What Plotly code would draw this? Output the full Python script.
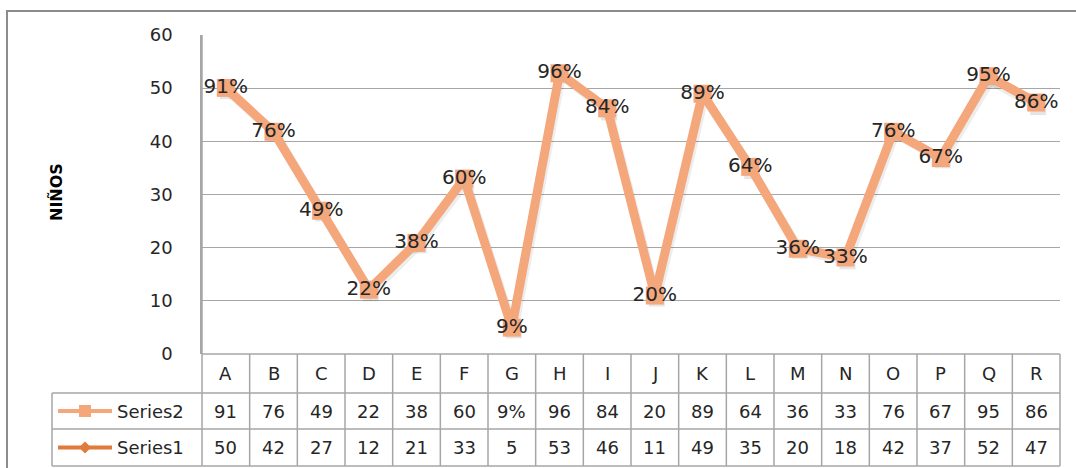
import plotly.graph_objects as go

# ---- data ----
categories = ["A", "B", "C", "D", "E", "F", "G", "H", "I", "J", "K", "L", "M", "N", "O", "P", "Q", "R"]
series1 = [50, 42, 27, 12, 21, 33, 5, 53, 46, 11, 49, 35, 20, 18, 42, 37, 52, 47]
series2 = [91, 76, 49, 22, 38, 60, 9, 96, 84, 20, 89, 64, 36, 33, 76, 67, 95, 86]
series2_table = ["91", "76", "49", "22", "38", "60", "9%", "96", "84", "20", "89", "64",
                 "36", "33", "76", "67", "95", "86"]
y_ticks = [0, 10, 20, 30, 40, 50, 60]

# ---- page geometry (pixels) ----
W, H = 1076, 468
PL, PR, PT, PB = 202, 1060, 35, 354          # plot area
ROW1, ROW2, ROW3 = 393, 429, 466             # table row boundaries
LEG_L = 52                                   # left edge of legend column

def fx(px):
    return (px - PL) / (PR - PL)

def fy(py):
    return (PB - py) / (PB - PT)

C1 = "#E07B39"
C2 = "#F5A77C"
GRID = "#A6A6A6"
TXT = "#262626"
FONT = "DejaVu Sans"
FS = 18

n = len(categories)
xs = list(range(n))
y1_max = 60
# secondary scale: 100 % corresponds to 55 children
y2_max = y1_max * 100 / 55

fig = go.Figure()

# soft drop shadow under the lines
dx = n / (PR - PL) * 2
dy = y1_max / (PB - PT) * 3
fig.add_trace(go.Scatter(
    x=[x + dx for x in xs], y=[v - dy for v in series1], mode="lines+markers",
    line=dict(color="rgba(0,0,0,0.07)", width=9),
    marker=dict(symbol="square", size=16, color="rgba(0,0,0,0.10)"),
    hoverinfo="skip", showlegend=False))

fig.add_trace(go.Scatter(
    x=xs, y=series1, name="Series1", mode="lines+markers",
    line=dict(color=C1, width=4),
    marker=dict(symbol="diamond", size=11, color=C1), showlegend=False))

fig.add_trace(go.Scatter(
    x=xs, y=series2, name="Series2", yaxis="y2", mode="lines+markers+text",
    line=dict(color=C2, width=9),
    marker=dict(symbol="square", size=18, color=C2),
    text=[f"{v}%" for v in series2], textposition="middle center",
    textfont=dict(family=FONT, size=20, color=TXT), showlegend=False))

shapes = []
# outer frame
shapes.append(dict(type="rect", xref="paper", yref="paper",
                   x0=fx(7), x1=fx(1090), y0=fy(11), y1=fy(480),
                   line=dict(color="#8C8C8C", width=2)))
# table horizontal lines
for py in (ROW1, ROW2, ROW3):
    shapes.append(dict(type="line", xref="paper", yref="paper",
                       x0=fx(LEG_L), x1=1, y0=fy(py), y1=fy(py),
                       line=dict(color=GRID, width=1.5)))
shapes.append(dict(type="line", xref="paper", yref="paper",
                   x0=0, x1=1, y0=0, y1=0, line=dict(color=GRID, width=1.5)))
# table vertical lines at category boundaries
for i in range(n + 1):
    x = i / n
    shapes.append(dict(type="line", xref="paper", yref="paper",
                       x0=x, x1=x, y0=fy(ROW3), y1=0 if i else 1,
                       line=dict(color=GRID, width=1.5)))
shapes.append(dict(type="line", xref="paper", yref="paper",
                   x0=fx(LEG_L), x1=fx(LEG_L), y0=fy(ROW3), y1=fy(ROW1),
                   line=dict(color=GRID, width=1.5)))

# legend keys inside the table
ym2 = (ROW1 + ROW2) / 2
ym1 = (ROW2 + ROW3) / 2
for ymid, col in ((ym2, C2), (ym1, C1)):
    shapes.append(dict(type="line", xref="paper", yref="paper",
                       x0=fx(58), x1=fx(112), y0=fy(ymid), y1=fy(ymid),
                       line=dict(color=col, width=4)))
shapes.append(dict(type="rect", xref="paper", yref="paper",
                   x0=fx(79), x1=fx(91), y0=fy(ym2 + 6), y1=fy(ym2 - 6),
                   fillcolor=C2, line=dict(width=0)))
shapes.append(dict(type="path", xref="paper", yref="paper",
                   path=(f"M {fx(85)} {fy(ym1 - 6)} L {fx(91)} {fy(ym1)} "
                         f"L {fx(85)} {fy(ym1 + 6)} L {fx(79)} {fy(ym1)} Z"),
                   fillcolor=C1, line=dict(width=0)))

annotations = []
font = dict(family=FONT, size=FS, color=TXT)

def cell(x, y, text, anchor="center"):
    annotations.append(dict(x=x, y=y, xref="paper", yref="paper", xanchor=anchor,
                            yanchor="middle", text=text, showarrow=False, font=font))

for i, cat in enumerate(categories):
    xc = (i + 0.5) / n
    cell(xc, fy((PB + ROW1) / 2), cat)
    cell(xc, fy(ym2), series2_table[i])
    cell(xc, fy(ym1), str(series1[i]))
cell(fx(115), fy(ym2), "Series2", "left")
cell(fx(115), fy(ym1), "Series1", "left")
annotations.append(dict(x=fx(56), y=fy(192), xref="paper", yref="paper",
                        xanchor="center", yanchor="middle",
                        text="<b>NIÑOS</b>", textangle=-90, showarrow=False,
                        font=dict(family=FONT, size=16, color="#000000")))

fig.update_layout(
    width=W, height=H,
    margin=dict(l=PL, r=W - PR, t=PT, b=H - PB),
    paper_bgcolor="white", plot_bgcolor="white",
    xaxis=dict(range=[-0.5, n - 0.5], showticklabels=False, showgrid=False,
               zeroline=False, showline=False, fixedrange=True),
    yaxis=dict(range=[0, y1_max], tickvals=y_ticks, showgrid=True, gridcolor=GRID,
               gridwidth=1.2, zeroline=False, showline=True, linecolor=GRID, linewidth=1.5,
               ticks="", ticklabelstandoff=24,
               tickfont=dict(family=FONT, size=FS, color=TXT)),
    yaxis2=dict(range=[0, y2_max], overlaying="y", visible=False),
    shapes=shapes, annotations=annotations, showlegend=False,
)

fig.write_html("out.html")
